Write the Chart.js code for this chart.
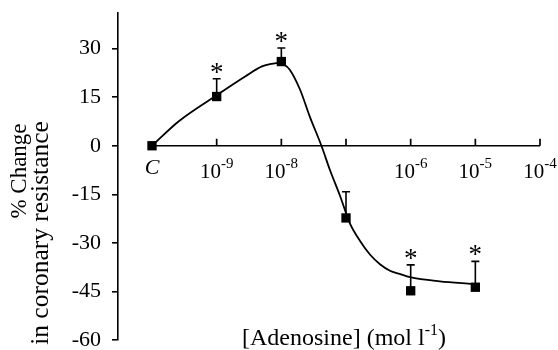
<!DOCTYPE html>
<html><head><meta charset="utf-8">
<script src="https://cdn.jsdelivr.net/npm/chart.js@4/dist/chart.umd.min.js"></script>
<style>html,body{margin:0;padding:0;background:#fff}</style>
</head><body>
<canvas id="c" width="558" height="350"></canvas>
<script>
// ---- data (x in log10 mol/l; C = control placed one decade below 1e-9) ----
const decadeLogs   = [-10, -9, -8, -7, -6, -5, -4];
const tickBase     = ['C', '10', '10', '', '10', '10', '10'];
const tickExp      = ['', '-9', '-8', '', '-6', '-5', '-4'];
const yTickValues  = [-60, -45, -30, -15, 0, 15, 30];

const pointLogs    = [-10, -9, -8, -7, -6, -5];
const meanValues   = [0, 15.2, 26.0, -22.3, -44.8, -43.7];
const semValues    = [0, 5.5, 4.2, 8.1, 8.0, 8.0];
const significant  = [false, true, true, false, true, true];

const curveLogs    = [-10, -9.59, -9.0, -8.56, -8.30, -8.15, -8.02, -7.97, -7.87, -7.71, -7.56, -7.38, -7.25, -7.09, -6.94, -6.78, -6.63, -6.47, -6.32, -6.17, -6.01, -5.55, -5.04];
const curveValues  = [0, 7.5, 15.6, 21.4, 24.5, 25.3, 25.6, 25.2, 23.5, 17.3, 9.0, 0, -7.4, -15.6, -24.0, -29.5, -33.6, -36.7, -38.6, -39.6, -40.6, -41.9, -42.7];

const yTitle = ['% Change', 'in coronary resistance'];
const xTitle = '[Adenosine] (mol l';
const xTitleExp = '-1';
const xTitleEnd = ')';

const SERIF = '"Liberation Serif", "Times New Roman", serif';

const annot = {
  id: 'annot',
  beforeDatasetsDraw(chart) {
    const {ctx, scales: {x, y}} = chart;
    ctx.save();
    ctx.strokeStyle = '#000';
    ctx.lineWidth = 1.7;
    const y0 = y.getPixelForValue(0);
    ctx.beginPath();
    ctx.moveTo(x.getPixelForValue(decadeLogs[0]), y0);
    ctx.lineTo(x.getPixelForValue(decadeLogs[decadeLogs.length - 1]), y0);
    ctx.stroke();
    decadeLogs.slice(1).forEach(v => {
      const px = x.getPixelForValue(v);
      ctx.beginPath(); ctx.moveTo(px, y0); ctx.lineTo(px, y0 - 7); ctx.stroke();
    });
    ctx.restore();
  },
  afterDatasetsDraw(chart) {
    const {ctx, scales: {x, y}} = chart;
    ctx.save();
    ctx.strokeStyle = '#000';
    ctx.fillStyle = '#000';
    ctx.lineWidth = 1.6;
    pointLogs.forEach((v, i) => {
      if (!semValues[i]) return;
      const px = x.getPixelForValue(v);
      const pm = y.getPixelForValue(meanValues[i]);
      const pt = y.getPixelForValue(meanValues[i] + semValues[i]);
      ctx.beginPath();
      ctx.moveTo(px, pm); ctx.lineTo(px, pt);
      ctx.moveTo(px - 4, pt); ctx.lineTo(px + 4, pt);
      ctx.stroke();
      if (significant[i]) {
        ctx.font = '27px ' + SERIF;
        ctx.textAlign = 'center';
        ctx.textBaseline = 'alphabetic';
        ctx.fillText('*', px, pt + 2);
      }
    });
    ctx.restore();
  },
  afterDraw(chart) {
    const {ctx, scales: {x, y}} = chart;
    ctx.save();
    ctx.fillStyle = '#000';
    const y0 = y.getPixelForValue(0);
    // x tick labels
    decadeLogs.forEach((v, i) => {
      const px = x.getPixelForValue(v);
      if (tickBase[i] === 'C') {
        ctx.font = 'italic 22px ' + SERIF;
        ctx.textAlign = 'center';
        ctx.textBaseline = 'alphabetic';
        ctx.fillText('C', px, y0 + 28);
        return;
      }
      if (!tickBase[i]) return;
      ctx.font = '21px ' + SERIF;
      const wb = ctx.measureText(tickBase[i]).width;
      ctx.font = '15px ' + SERIF;
      const we = ctx.measureText(tickExp[i]).width;
      const start = px - (wb + we) / 2;
      ctx.textAlign = 'left';
      ctx.textBaseline = 'alphabetic';
      ctx.font = '21px ' + SERIF;
      ctx.fillText(tickBase[i], start, y0 + 32);
      ctx.font = '15px ' + SERIF;
      ctx.fillText(tickExp[i], start + wb, y0 + 22);
    });
    // x title
    ctx.font = '24px ' + SERIF;
    const w1 = ctx.measureText(xTitle).width;
    const w3 = ctx.measureText(xTitleEnd).width;
    ctx.font = '16px ' + SERIF;
    const w2 = ctx.measureText(xTitleExp).width;
    let sx = 344 - (w1 + w2 + w3) / 2;
    ctx.textAlign = 'left';
    ctx.textBaseline = 'alphabetic';
    ctx.font = '24px ' + SERIF;
    ctx.fillText(xTitle, sx, 345);
    ctx.font = '16px ' + SERIF;
    ctx.fillText(xTitleExp, sx + w1, 335);
    ctx.font = '24px ' + SERIF;
    ctx.fillText(xTitleEnd, sx + w1 + w2, 345);
    // y title
    ctx.textAlign = 'center';
    ctx.textBaseline = 'middle';
    ctx.font = '23px ' + SERIF;
    ctx.save(); ctx.translate(20, 171); ctx.rotate(-Math.PI / 2); ctx.fillText(yTitle[0], 0, 0); ctx.restore();
    ctx.font = '25.5px ' + SERIF;
    ctx.save(); ctx.translate(41, 233); ctx.rotate(-Math.PI / 2); ctx.fillText(yTitle[1], 0, 0); ctx.restore();
    ctx.restore();
  }
};

const pxPerDecade = 64.67;
const xMin = -10 - 34 / pxPerDecade;
const xMax = xMin + 430 / pxPerDecade;

new Chart(document.getElementById('c'), {
  type: 'line',
  data: {
    datasets: [
      {
        label: 'fit',
        data: curveLogs.map((v, i) => ({x: v, y: curveValues[i]})),
        borderColor: '#000', borderWidth: 1.8, pointRadius: 0,
        cubicInterpolationMode: 'monotone', fill: false
      },
      {
        label: 'mean',
        data: pointLogs.map((v, i) => ({x: v, y: meanValues[i]})),
        showLine: false, pointStyle: 'rect', pointRadius: 6.6,
        backgroundColor: '#000', borderColor: '#000', borderWidth: 0
      }
    ]
  },
  options: {
    responsive: false,
    devicePixelRatio: 1,
    animation: false,
    layout: {padding: {left: 0, top: 13, right: 10, bottom: 10}},
    plugins: {legend: {display: false}, tooltip: {enabled: false}},
    scales: {
      x: {type: 'linear', min: xMin, max: xMax, display: false},
      y: {
        min: -60, max: 41,
        afterBuildTicks: s => { s.ticks = yTickValues.map(v => ({value: v})); },
        afterFit: s => { s.width = 118; s.paddingTop = 0; s.paddingBottom = 0; },
        grid: {display: true, drawOnChartArea: false, drawTicks: true, tickLength: 6, color: '#000', lineWidth: 1.6},
        border: {display: true, color: '#000', width: 1.6},
        ticks: {color: '#000', padding: 11, font: {family: SERIF, size: 22}}
      }
    }
  },
  plugins: [annot]
});
</script>
</body></html>
